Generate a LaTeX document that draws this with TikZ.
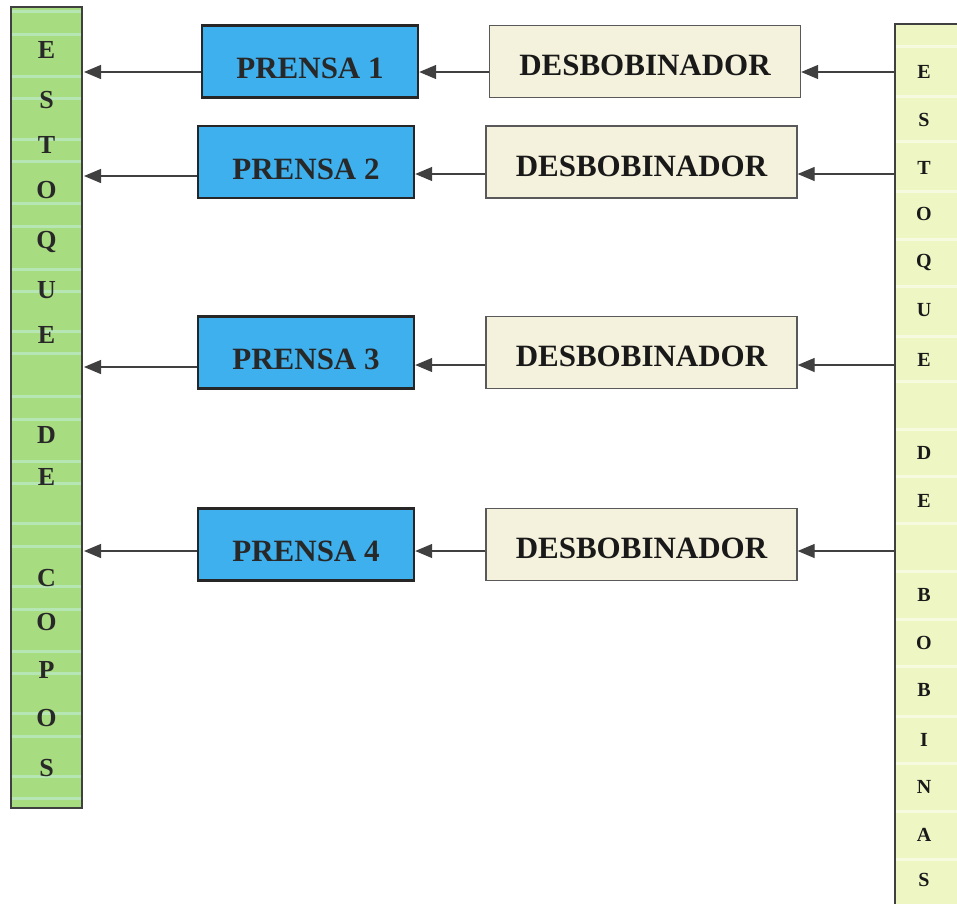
\documentclass[tikz,border=0pt]{standalone}
\usepackage{fontspec}
\setmainfont{Liberation Serif}
\usetikzlibrary{arrows.meta}
\definecolor{prblue}{RGB}{62,176,238}
\definecolor{dsbeige}{RGB}{244,241,220}
\definecolor{lgreen}{RGB}{168,220,128}
\definecolor{lstripe}{RGB}{182,230,180}
\definecolor{rgreen}{RGB}{238,246,196}
\definecolor{rstripe}{RGB}{246,250,222}
\definecolor{arr}{RGB}{64,64,64}
\definecolor{txt}{RGB}{40,40,40}
\tikzset{
  prbox/.style={draw=black!85, line width=2.4pt, fill=prblue, minimum width=216pt, minimum height=72pt, inner sep=0pt, font=\fontsize{31}{32}\selectfont\bfseries, text=txt},
  dsbox/.style={draw=black!65, line width=1.3pt, fill=dsbeige, minimum width=311pt, minimum height=72pt, inner sep=0pt, font=\fontsize{31}{32}\selectfont\bfseries, text=black!90},
  barletter/.style={font=\fontsize{26}{27}\selectfont\bfseries, text=txt, inner sep=0pt},
  rletter/.style={font=\fontsize{20}{21}\selectfont\bfseries, text=black!90, inner sep=0pt},
  flow/.style={draw=arr, line width=1.3pt, -{Triangle[length=17pt,width=14pt]}}
}
\newcommand{\lowerby}[2]{\smash{\raisebox{-#1}{#2}}}
\begin{document}
\begin{tikzpicture}[x=1pt,y=-1pt]
\useasboundingbox (0,0) rectangle (957,903);
% left bar
\fill[lgreen] (11,7) rectangle (82,808);
\foreach \y in {10,33,75,97,138,160,202,225,268,290,330,352,395,418,460,482,522,545,585,608,650,672,712,735,775,797}
  \fill[lstripe] (12,\y) rectangle (81,\y+3);
\node[draw=black!75, line width=1.3pt, minimum width=71pt, minimum height=801pt, inner sep=0pt] (lbar) at (46.5,407.5) {};
\foreach \l/\y in {E/50,S/100,T/145,O/190,Q/242,U/290,E/335,D/435,E/477,C/578,O/622,P/670,O/718,S/768}
  \node[barletter] at (46.5,\y) {\l};
% right bar
\fill[rgreen] (895,24) rectangle (960,910);
\foreach \y in {45,95,140,190,238,285,335,380,428,475,522,570,618,665,715,762,810,858}
  \fill[rstripe] (896,\y) rectangle (957,\y+3);
\node[draw=black!75, line width=1.3pt, minimum width=70pt, minimum height=890pt, inner sep=0pt] (rbar) at (930,469) {};
\foreach \l/\y in {E/72,S/120,T/168,O/214,Q/262,U/310,E/360,D/453,E/501,B/595,O/643,B/690,I/740,N/787,A/835,S/880}
  \node[rletter] at (924,\y) {\l};
% boxes
\node[prbox] (p1) at (310,61.5) {\lowerby{17pt}{PRENSA 1}};
\node[prbox] (p2) at (306,162) {\lowerby{17pt}{PRENSA 2}};
\node[prbox] (p3) at (306,352.5) {\lowerby{17pt}{PRENSA 3}};
\node[prbox] (p4) at (306,544.5) {\lowerby{17pt}{PRENSA 4}};
\node[dsbox] (d1) at (645,61.5) {\lowerby{14pt}{DESBOBINADOR}};
\node[dsbox] (d2) at (641.5,162) {\lowerby{14pt}{DESBOBINADOR}};
\node[dsbox] (d3) at (641.5,352.5) {\lowerby{14pt}{DESBOBINADOR}};
\node[dsbox] (d4) at (641.5,544.5) {\lowerby{14pt}{DESBOBINADOR}};
% connectors
\foreach \i/\ya/\yb in {1/72/72,2/174/176,3/365/367,4/551/551}{
  \coordinate (rs\i) at (895,\ya);
  \coordinate (le\i) at (84,\yb);
}
\draw[flow] (rs1) -- (d1.east |- rs1);
\draw[flow] (rs2) -- (d2.east |- rs2);
\draw[flow] (rs3) -- (d3.east |- rs3);
\draw[flow] (rs4) -- (d4.east |- rs4);
\draw[flow] (d1.west |- rs1) -- (p1.east |- rs1);
\draw[flow] (d2.west |- rs2) -- (p2.east |- rs2);
\draw[flow] (d3.west |- rs3) -- (p3.east |- rs3);
\draw[flow] (d4.west |- rs4) -- (p4.east |- rs4);
\draw[flow] (p1.west |- le1) -- (le1);
\draw[flow] (p2.west |- le2) -- (le2);
\draw[flow] (p3.west |- le3) -- (le3);
\draw[flow] (p4.west |- le4) -- (le4);
\end{tikzpicture}
\end{document}
